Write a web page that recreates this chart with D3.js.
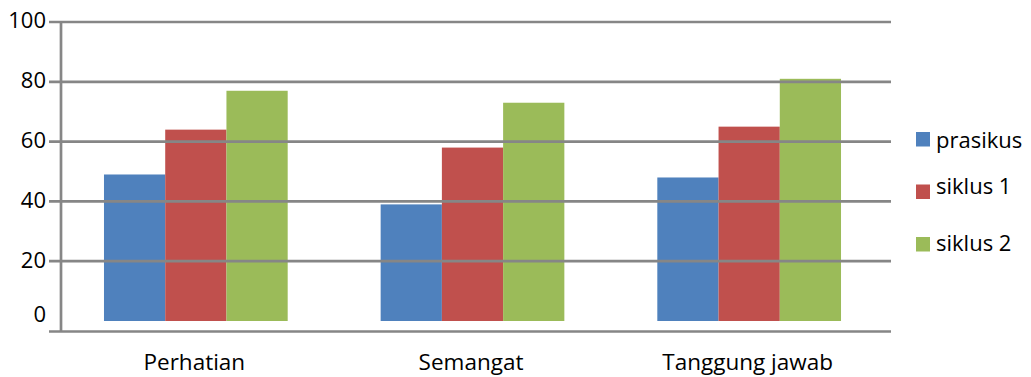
<!DOCTYPE html>
<html>
<head>
	<title></title>
	<style>
		body { margin: 0; background: #fff; }
		text { font-family: "Open Sans", sans-serif; fill: #000; }
	</style>
</head>
<body>
	<svg id="container" height="377" width="1031"></svg>
</body>
<script src="https://d3js.org/d3.v7.min.js"></script>
<script>
	let categories = ["Perhatian", "Semangat", "Tanggung jawab"]
	let series = ["prasikus", "siklus 1", "siklus 2"]
	let prasikus = [49, 39, 48]
	let siklus1 = [64, 58, 65]
	let siklus2 = [77, 73, 81]
	let yTicks = [0, 20, 40, 60, 80, 100]
	let colors = ["#4F81BD", "#C0504D", "#9BBB59"]

	let values = [prasikus, siklus1, siklus2]

	let svg = d3.select("#container")

	let plotLeft = 61, plotRight = 891, plotTop = 22, plotBottom = 321
	let axisY = 331.5 // x axis line sits a bit below the zero

	let x0 = d3.scaleBand()
		.domain(categories)
		.range([plotLeft - 3.5, plotRight - 3.5])
		.paddingInner(0.336)
		.paddingOuter(0.168)

	let x1 = d3.scaleBand()
		.domain(series)
		.range([0, x0.bandwidth()])

	let y = d3.scaleLinear()
		.domain([0, 100])
		.range([plotBottom, plotTop])

	// bars
	categories.forEach((c, ci) => {
		svg.append("g")
			.selectAll("rect")
			.data(series)
			.enter().append("rect")
			.attr("x", s => x0(c) + x1(s))
			.attr("y", (s, si) => y(values[si][ci]))
			.attr("width", x1.bandwidth())
			.attr("height", (s, si) => y(0) - y(values[si][ci]))
			.attr("fill", (s, si) => colors[si])
	})

	// gridlines on top of bars, like the original
	svg.append("g")
		.selectAll("line")
		.data(yTicks.filter(d => d > 0))
		.enter().append("line")
		.attr("x1", 49)
		.attr("x2", plotRight)
		.attr("y1", d => y(d))
		.attr("y2", d => y(d))
		.attr("stroke", "#868686")
		.attr("stroke-width", 2.7)

	// axes lines
	svg.append("line")
		.attr("x1", plotLeft).attr("x2", plotLeft)
		.attr("y1", plotTop).attr("y2", axisY)
		.attr("stroke", "#868686").attr("stroke-width", 2.7)
	svg.append("line")
		.attr("x1", 49).attr("x2", plotRight)
		.attr("y1", axisY).attr("y2", axisY)
		.attr("stroke", "#868686").attr("stroke-width", 2.7)

	// y labels
	svg.append("g")
		.selectAll("text")
		.data(yTicks)
		.enter().append("text")
		.attr("x", 46)
		.attr("y", d => d == 0 ? y(d) - 7 : y(d) - 1.5)
		.attr("dy", "0.357em")
		.attr("text-anchor", "end")
		.style("font-size", "22px")
		.text(d => d)

	// x labels
	svg.append("g")
		.selectAll("text")
		.data(categories)
		.enter().append("text")
		.attr("x", d => x0(d) + x0.bandwidth() / 2 - 1.5)
		.attr("y", 370)
		.attr("text-anchor", "middle")
		.style("font-size", "22.5px")
		.text(d => d)

	// legend (text baselines in the original are not evenly offset)
	let textOffset = [16, 9, 14]
	let legend = svg.append("g")
		.selectAll("g")
		.data(series)
		.enter().append("g")
		.attr("transform", (d, i) => `translate(916, ${132 + i * 52.5})`)
	legend.append("rect")
		.attr("width", 14).attr("height", 14.5)
		.attr("fill", (d, i) => colors[i])
	legend.append("text")
		.attr("x", 20)
		.attr("y", (d, i) => textOffset[i])
		.style("font-size", "22px")
		.text(d => d)
</script>
</html>
